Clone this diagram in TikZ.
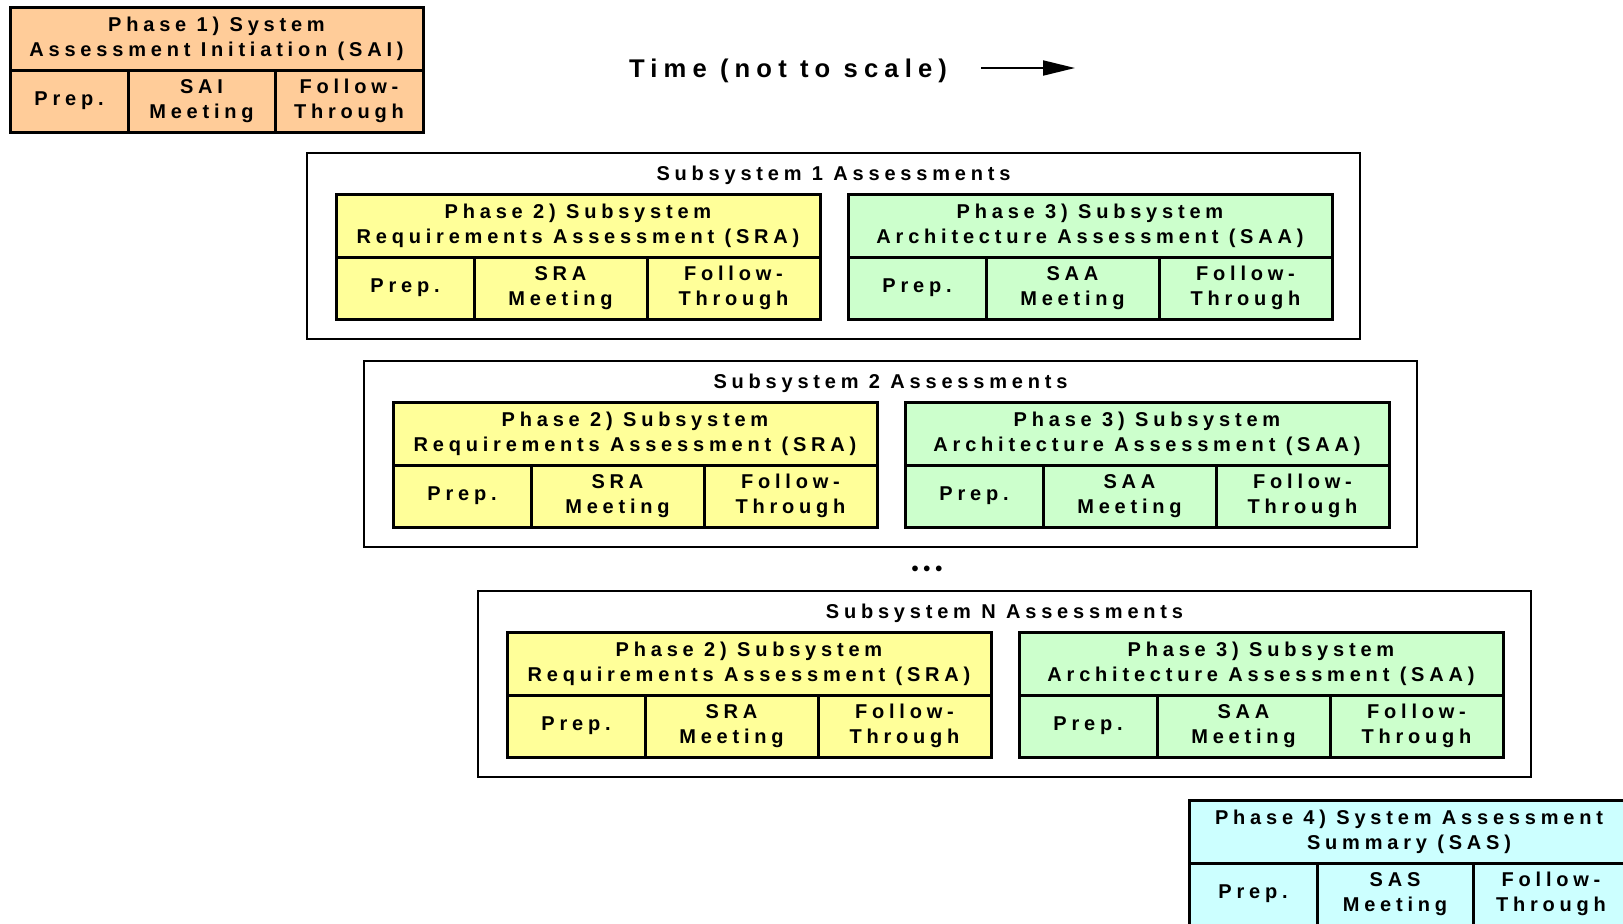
\documentclass[tikz,border=0pt]{standalone}
\usepackage{fontspec}
\setmainfont{Liberation Sans}[LetterSpace=24]
\usetikzlibrary{positioning}
\usetikzlibrary{arrows.meta}

\definecolor{saiOrange}{HTML}{FFCC99}
\definecolor{sraYellow}{HTML}{FFFF99}
\definecolor{saaGreen}{HTML}{CCFFCC}
\definecolor{sasCyan}{HTML}{CCFFFF}

\tikzset{
  phasehead/.style={draw, line width=1.5pt, outer sep=0pt, inner sep=0pt, align=center,
    anchor=north west, minimum height=31.5pt, font=\fontsize{10}{12.5}\bfseries\selectfont},
  phasecell/.style={phasehead, minimum height=31pt},
  subsys/.style={draw, line width=1.1pt, outer sep=0pt, inner sep=0pt, anchor=north west,
    minimum width=526.5pt, minimum height=93pt},
  subtitle/.style={font=\fontsize{10}{12.5}\bfseries\selectfont},
  timelabel/.style={font=\fontsize{12.8}{14}\bfseries\selectfont},
  timearrow/.style={line width=1pt, -{Triangle[length=16pt,width=7.5pt]}},
}

% name, position, fill, column widths, title, meeting
\newcommand{\phaseblock}[8]{
  \node[phasehead, fill=#3, minimum width={#4pt+#5pt+#6pt}] (#1) at (#2) {#7};
  \node[phasecell, fill=#3, minimum width=#4pt] (#1-prep) at (#1.south west) {Prep.};
  \node[phasecell, fill=#3, minimum width=#5pt] (#1-meet) at (#1-prep.north east) {#8\\Meeting};
  \node[phasecell, fill=#3, minimum width=#6pt] (#1-follow) at (#1-meet.north east) {Follow-\\Through};
}

% name, position, title
\newcommand{\subsysblock}[3]{
  \node[subsys] (#1) at (#2) {};
  \node[subtitle] (#1-title) at ([yshift=-11pt]#1.north) {#3};
  \phaseblock{#1-sra}{[xshift=14.5pt,yshift=-20.5pt]#1.north west}{sraYellow}{69}{86.5}{86.5}
    {Phase 2) Subsystem\\Requirements Assessment (SRA)}{SRA}
  \phaseblock{#1-saa}{[xshift=270.5pt,yshift=-20.5pt]#1.north west}{saaGreen}{69}{86.5}{86.5}
    {Phase 3) Subsystem\\Architecture Assessment (SAA)}{SAA}
}

\begin{document}
\begin{tikzpicture}[x=0.5pt,y=-0.5pt]
  \useasboundingbox (0,0) rectangle (1623,923);
  \clip (0,0) rectangle (1623,923);

  \phaseblock{sai}{10,7}{saiOrange}{59}{73.5}{74}{Phase 1) System\\Assessment Initiation (SAI)}{SAI}

  \node[timelabel] (time) at (788,71) {Time (not to scale)};
  \coordinate (time-start) at (981,68);
  \coordinate (time-end) at (1075,68);
  \draw[timearrow] (time-start) -- (time-end);

  \subsysblock{ss1}{307,153}{Subsystem 1 Assessments}
  \subsysblock{ss2}{364,361}{Subsystem 2 Assessments}
  \node[subtitle] (dots) at (927,571) {\textbullet\textbullet\textbullet};
  \subsysblock{ssn}{478,591}{Subsystem N Assessments}

  \phaseblock{sas}{1189,800}{sasCyan}{64}{78}{78}{Phase 4) System Assessment\\Summary (SAS)}{SAS}
\end{tikzpicture}
\end{document}
